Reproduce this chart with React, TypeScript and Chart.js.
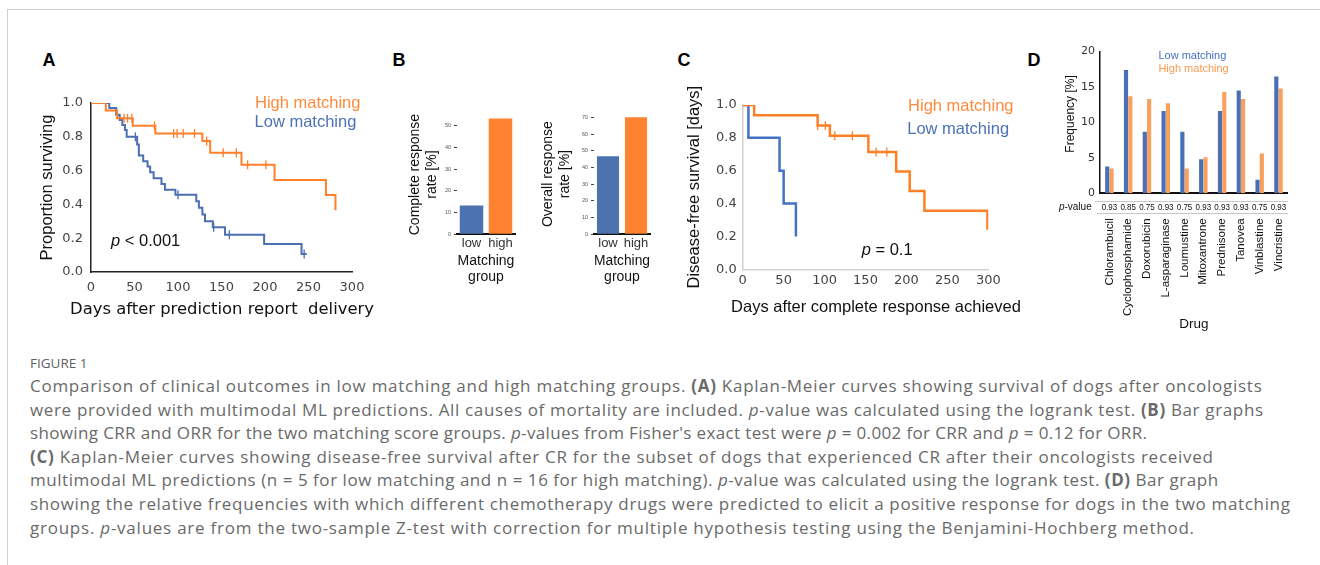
import React, { useEffect, useRef } from 'react';
import { Chart, registerables } from 'chart.js';

Chart.register(...registerables);

const ARIAL = '"Liberation Sans", Arial, sans-serif';
const DEJAVU = '"DejaVu Sans", Verdana, sans-serif';

// ---------------- Panel A: Kaplan-Meier, survival after report delivery
const A_HIGH_T = [0, 17, 30, 48, 74, 128, 137, 173, 211, 270, 281];
const A_HIGH_S = [1, 0.955, 0.91, 0.865, 0.82, 0.775, 0.705, 0.635, 0.545, 0.455, 0.365];
const A_HIGH_CENSOR = [38, 42, 47, 73, 95, 99, 106, 119, 133, 152, 167, 180, 201];
const A_LOW_T = [0, 21, 29, 33, 36, 39, 41, 53, 55, 60, 65, 68, 72, 81, 85, 97, 121, 124, 128, 131, 140, 154, 199, 242, 248];
const A_LOW_S = [1, 0.97, 0.93, 0.9, 0.87, 0.84, 0.8, 0.755, 0.69, 0.655, 0.625, 0.59, 0.555, 0.52, 0.487, 0.457, 0.418, 0.38, 0.34, 0.3, 0.265, 0.22, 0.165, 0.107, 0.107];
const A_LOW_CENSOR = [51, 100, 141, 159, 245];

// ---------------- Panel B: response rates
const B_GROUPS = ['low', 'high'];
const B_CRR = [13.3, 53.3];
const B_ORR = [46.7, 70.0];

// ---------------- Panel C: disease-free survival
const C_HIGH_T = [0, 14, 91.5, 106.5, 153.5, 187.5, 204, 222, 299];
const C_HIGH_S = [1, 0.9375, 0.875, 0.8125, 0.714, 0.595, 0.476, 0.357, 0.24];
const C_HIGH_CENSOR = [91.5, 101, 112.5, 134, 163, 176];
const C_LOW_T = [0, 7, 45, 50, 65];
const C_LOW_S = [1, 0.8, 0.6, 0.4, 0.2];

// ---------------- Panel D: drug frequencies
const D_DRUGS = ['Chlorambucil', 'Cyclophosphamide', 'Doxorubicin', 'L-asparaginase', 'Loumustine', 'Mitoxantrone', 'Prednisone', 'Tanovea', 'Vinblastine', 'Vincristine'];
const D_LOW = [3.8, 17.4, 8.7, 11.6, 8.7, 4.8, 11.6, 14.5, 1.9, 16.5];
const D_HIGH = [3.5, 13.7, 13.3, 12.7, 3.5, 5.1, 14.3, 13.3, 5.6, 14.8];
const D_PVALUES = ['0.93', '0.85', '0.75', '0.93', '0.75', '0.93', '0.93', '0.93', '0.75', '0.93'];

const ORANGE = '#FF7F2A';
const BLUE = '#4A6FB2';
const ORANGE_TXT = '#FF8A3D';
const BLUE_TXT = '#4C72B6';
const D_BLUE = '#4A6FB5';
const D_ORANGE = '#F9A15C';

type Part = { text: string; font: string; color: string };
type Note = { x: number; y: number; parts: Part[]; align?: 'left' | 'center'; rotate?: number };

function notesPlugin(notes: Note[]) {
  return {
    id: 'notes',
    afterDraw(chart: any) {
      const { ctx, scales } = chart;
      for (const n of notes) {
        const px = scales.x.getPixelForValue(n.x);
        const py = scales.y.getPixelForValue(n.y);
        ctx.save();
        ctx.textBaseline = 'middle';
        ctx.textAlign = 'left';
        let total = 0;
        for (const p of n.parts) {
          ctx.font = p.font;
          total += ctx.measureText(p.text).width;
        }
        ctx.translate(px, py);
        if (n.rotate) ctx.rotate(n.rotate);
        let cx = n.align === 'center' ? -total / 2 : 0;
        for (const p of n.parts) {
          ctx.font = p.font;
          ctx.fillStyle = p.color;
          ctx.fillText(p.text, cx, 0);
          cx += ctx.measureText(p.text).width;
        }
        ctx.restore();
      }
    },
  };
}

const survAt = (t: number[], s: number[], time: number) => {
  let v = s[0];
  for (let i = 0; i < t.length; i++) if (t[i] <= time) v = s[i];
  return v;
};

const kmLine = (t: number[], s: number[], color: string, width: number) => ({
  data: t.map((x, i) => ({ x, y: s[i] })),
  stepped: 'before',
  borderColor: color,
  borderWidth: width,
  pointRadius: 0,
  pointHoverRadius: 0,
  fill: false,
});

const kmCensor = (t: number[], s: number[], c: number[], color: string) => ({
  data: c.map((x) => ({ x, y: survAt(t, s, x) })),
  showLine: false,
  pointStyle: 'line',
  pointRotation: 90,
  pointRadius: 4.5,
  pointHoverRadius: 0,
  pointBorderColor: color,
  pointBackgroundColor: color,
  pointBorderWidth: 1.3,
});

const baseOpts = {
  responsive: false,
  animation: false,
  events: [],
  devicePixelRatio: 1,
};

const noGrid = { display: false, drawTicks: false, tickLength: 0 };

function configA() {
  const font = `16.5px ${ARIAL}`;
  return {
    type: 'line',
    data: {
      datasets: [
        kmLine(A_HIGH_T, A_HIGH_S, ORANGE, 2),
        kmCensor(A_HIGH_T, A_HIGH_S, A_HIGH_CENSOR, ORANGE),
        kmLine(A_LOW_T, A_LOW_S, BLUE, 2),
        kmCensor(A_LOW_T, A_LOW_S, A_LOW_CENSOR, BLUE),
      ],
    },
    options: {
      ...baseOpts,
      layout: { padding: { left: 0, top: 63, right: 28, bottom: 0 } },
      plugins: { legend: { display: false }, tooltip: { enabled: false } },
      scales: {
        x: {
          type: 'linear', min: 0, max: 300,
          ticks: { stepSize: 50, padding: 8, maxRotation: 0, font: { family: DEJAVU, size: 13 }, color: '#444' },
          grid: noGrid,
          border: { display: true, color: '#222', width: 1.5 },
          afterFit: (s: any) => { s.height = 58; },
        },
        y: {
          type: 'linear', min: 0, max: 1,
          ticks: { stepSize: 0.2, padding: 8, font: { family: DEJAVU, size: 13 }, color: '#444', callback: (v: any) => Number(v).toFixed(1) },
          grid: noGrid,
          border: { display: true, color: '#222', width: 1.5 },
          title: { display: true, text: 'Proportion surviving', color: '#111', font: { family: ARIAL, size: 16.5 }, padding: { top: 8, bottom: 0 } },
          afterFit: (s: any) => { s.width = 61; },
        },
      },
    },
    plugins: [
      notesPlugin([
        { x: 188.5, y: 1.0, parts: [{ text: 'High matching', font, color: ORANGE_TXT }] },
        { x: 188, y: 0.882, parts: [{ text: 'Low matching', font, color: BLUE_TXT }] },
        { x: 23, y: 0.18, parts: [{ text: 'p', font: `italic ${font}`, color: '#111' }, { text: ' < 0.001', font, color: '#111' }] },
        { x: 150.6, y: -0.223, align: 'center', parts: [{ text: 'Days after prediction report  delivery', font: `16.4px ${DEJAVU}`, color: '#111' }] },
      ]),
    ],
  };
}

function configB(values: number[], max: number, yTitle: string[], o: { top: number; yWidth: number; titlePad: number; barPct: number }) {
  return {
    type: 'bar',
    data: {
      labels: B_GROUPS,
      datasets: [{ data: values, backgroundColor: ['#4C72B0', '#FF8230'], categoryPercentage: 1, barPercentage: o.barPct, borderWidth: 0 }],
    },
    options: {
      ...baseOpts,
      layout: { padding: { left: 0, top: o.top, right: 5, bottom: 0 } },
      plugins: { legend: { display: false }, tooltip: { enabled: false } },
      scales: {
        x: {
          ticks: { padding: 1, autoSkip: false, minRotation: 0, maxRotation: 0, font: { family: ARIAL, size: 13 }, color: '#333' },
          grid: noGrid,
          border: { display: true, color: '#111', width: 2 },
          title: { display: true, text: ['Matching', 'group'], color: '#111', font: { family: ARIAL, size: 14, lineHeight: 1.2 }, padding: { top: 0, bottom: 9 } },
          afterFit: (s: any) => { s.height = 60.7; },
        },
        y: {
          min: 0, max,
          ticks: { stepSize: 10, includeBounds: false, padding: 3, font: { family: ARIAL, size: 5.5 }, color: '#555' },
          grid: { display: true, drawOnChartArea: false, drawTicks: true, tickLength: 3, color: '#444', tickWidth: 1 },
          border: { display: false },
          title: { display: true, text: yTitle, color: '#111', font: { family: ARIAL, size: 14, lineHeight: 1.2 }, padding: { top: o.titlePad, bottom: 0 } },
          afterFit: (s: any) => { s.width = o.yWidth; },
        },
      },
    },
  };
}

function configC() {
  const font = `16.5px ${ARIAL}`;
  return {
    type: 'line',
    data: {
      datasets: [
        kmLine(C_HIGH_T, C_HIGH_S, '#FF7F27', 2.5),
        kmCensor(C_HIGH_T, C_HIGH_S, C_HIGH_CENSOR, '#FF7F27'),
        kmLine(C_LOW_T, C_LOW_S, '#4472C4', 2.5),
      ],
    },
    options: {
      ...baseOpts,
      layout: { padding: { left: 0, top: 65, right: 41.7, bottom: 0 } },
      plugins: { legend: { display: false }, tooltip: { enabled: false } },
      scales: {
        x: {
          type: 'linear', min: 0, max: 300,
          ticks: { stepSize: 50, padding: 4, maxRotation: 0, font: { family: DEJAVU, size: 13 }, color: '#444' },
          grid: noGrid,
          border: { display: true, color: '#d0d0d0', width: 1.5 },
          afterFit: (s: any) => { s.height = 60.7; },
        },
        y: {
          type: 'linear', min: 0, max: 1,
          ticks: { stepSize: 0.2, padding: 6, font: { family: DEJAVU, size: 13 }, color: '#444', callback: (v: any) => Number(v).toFixed(1) },
          grid: noGrid,
          border: { display: true, color: '#d0d0d0', width: 1.5 },
          title: { display: true, text: 'Disease-free survival [days]', color: '#111', font: { family: ARIAL, size: 16.5 }, padding: { top: 5, bottom: 0 } },
          afterFit: (s: any) => { s.width = 62.7; },
        },
      },
    },
    plugins: [
      notesPlugin([
        { x: 202, y: 0.99, parts: [{ text: 'High matching', font, color: ORANGE_TXT }] },
        { x: 201, y: 0.852, parts: [{ text: 'Low matching', font, color: BLUE_TXT }] },
        { x: 145.3, y: 0.117, parts: [{ text: 'p', font: `italic ${font}`, color: '#111' }, { text: ' = 0.1', font, color: '#111' }] },
        { x: 162.8, y: -0.234, align: 'center', parts: [{ text: 'Days after complete response achieved', font, color: '#111' }] },
      ]),
    ],
  };
}

const dTablePlugin = {
  id: 'dtable',
  afterDraw(chart: any) {
    const { ctx, chartArea, scales } = chart;
    const yTop = Math.round(chartArea.bottom + 7.7) + 0.5;
    const yBot = Math.round(chartArea.bottom + 20) + 0.5;
    const yMid = chartArea.bottom + 13.6;
    ctx.save();
    ctx.strokeStyle = '#c8c8c8';
    ctx.lineWidth = 1;
    ctx.beginPath();
    ctx.moveTo(chartArea.left - 5, yTop);
    ctx.lineTo(chartArea.right, yTop);
    ctx.moveTo(chartArea.left - 3, yBot);
    ctx.lineTo(chartArea.right, yBot);
    ctx.stroke();
    ctx.fillStyle = '#111';
    ctx.textBaseline = 'middle';
    ctx.textAlign = 'center';
    ctx.font = `9.5px ${ARIAL}`;
    D_PVALUES.forEach((v, i) => {
      ctx.save();
      ctx.translate(scales.x.getPixelForValue(i), yMid);
      ctx.scale(0.84, 1);
      ctx.fillText(v, 0, 0);
      ctx.restore();
    });
    ctx.textAlign = 'left';
    const f1 = `italic 10px ${ARIAL}`;
    const f2 = `10px ${ARIAL}`;
    ctx.font = f2;
    const w2 = ctx.measureText('-value').width;
    ctx.font = f1;
    const w1 = ctx.measureText('p').width;
    const x0 = chartArea.left - 8.3 - w1 - w2;
    ctx.fillText('p', x0, yMid);
    ctx.font = f2;
    ctx.fillText('-value', x0 + w1, yMid);
    ctx.restore();
  },
};

function configD() {
  const font = `11px ${ARIAL}`;
  return {
    type: 'bar',
    data: {
      labels: D_DRUGS,
      datasets: [
        { label: 'Low matching', data: D_LOW, backgroundColor: D_BLUE, categoryPercentage: 0.46, barPercentage: 0.96, borderWidth: 0 },
        { label: 'High matching', data: D_HIGH, backgroundColor: D_ORANGE, categoryPercentage: 0.46, barPercentage: 0.96, borderWidth: 0 },
      ],
    },
    options: {
      ...baseOpts,
      layout: { padding: { left: 0, top: 10, right: 14.7, bottom: 0 } },
      plugins: { legend: { display: false }, tooltip: { enabled: false } },
      scales: {
        x: {
          ticks: { autoSkip: false, minRotation: 90, maxRotation: 90, padding: 25, font: { family: ARIAL, size: 11.5 }, color: '#111' },
          grid: noGrid,
          border: { display: true, color: '#111', width: 2 },
          title: { display: true, text: 'Drug', color: '#111', font: { family: ARIAL, size: 13.5 }, padding: { top: 0, bottom: 8 } },
          afterFit: (s: any) => { s.height = 146.7; },
        },
        y: {
          min: 0, max: 20,
          ticks: { stepSize: 5, padding: 5, font: { family: DEJAVU, size: 11 }, color: '#333' },
          grid: noGrid,
          border: { display: true, color: '#111', width: 1.5 },
          afterFit: (s: any) => { s.width = 60; },
        },
      },
    },
    plugins: [
      notesPlugin([
        { x: 2.61, y: 19.44, parts: [{ text: 'Low matching', font, color: '#4472C4' }] },
        { x: 2.61, y: 17.59, parts: [{ text: 'High matching', font, color: '#F79A4E' }] },
        { x: -2.06, y: 11.2, align: 'center', rotate: -Math.PI / 2, parts: [{ text: 'Frequency [%]', font: `12px ${ARIAL}`, color: '#111' }] },
      ]),
      dTablePlugin,
    ],
  };
}

function ChartBox(props: { left: number; top: number; width: number; height: number; build: () => any }) {
  const ref = useRef<HTMLCanvasElement | null>(null);
  useEffect(() => {
    const chart = new Chart(ref.current as HTMLCanvasElement, props.build());
    return () => chart.destroy();
  }, []);
  return (
    <canvas
      ref={ref}
      width={props.width}
      height={props.height}
      style={{ position: 'absolute', left: props.left, top: props.top, width: props.width, height: props.height }}
    />
  );
}

const letterStyle = (left: number): React.CSSProperties => ({
  position: 'absolute', left, top: 51, font: `bold 18px ${ARIAL}`, lineHeight: '18px', color: '#000',
});

export default function App() {
  const b: React.CSSProperties = { fontWeight: 700 };
  const i: React.CSSProperties = { fontStyle: 'italic' };
  const ls = (v: number): React.CSSProperties => ({ letterSpacing: `${v}px` });
  return (
    <div style={{ position: 'fixed', left: 0, top: 0, width: 1320, height: 565, overflow: 'hidden', background: '#fff' }}>
      <div style={{ position: 'absolute', left: 7, top: 9, width: 1400, height: 700, border: '1px solid #d0d0d0' }} />
      <div style={letterStyle(42.5)}>A</div>
      <div style={letterStyle(392.5)}>B</div>
      <div style={letterStyle(677.5)}>C</div>
      <div style={letterStyle(1027.5)}>D</div>
      <ChartBox left={30} top={40} width={350} height={290} build={configA} />
      <ChartBox left={395} top={90} width={125} height={205} build={() => configB(B_CRR, 55, ['Complete response', 'rate [%]'], { top: 24.8, yWidth: 62, titlePad: 11.6, barPct: 0.81 })} />
      <ChartBox left={530} top={90} width={125} height={205} build={() => configB(B_ORR, 72, ['Overall response', 'rate [%]'], { top: 24, yWidth: 64, titlePad: 9.6, barPct: 0.79 })} />
      <ChartBox left={680} top={40} width={350} height={290} build={configC} />
      <ChartBox left={1040} top={40} width={278} height={300} build={configD} />
      <div style={{ position: 'absolute', left: 30, top: 354, font: '13.5px "Open Sans", sans-serif', color: '#5f5f5f', whiteSpace: 'nowrap' }}>FIGURE 1</div>
      <div style={{ position: 'absolute', left: 30, top: 374, font: '17px "Open Sans", sans-serif', lineHeight: '23.6px', color: '#6a6a6a', whiteSpace: 'nowrap' }}>
        <div style={ls(0.73)}>Comparison of clinical outcomes in low matching and high matching groups. <span style={b}>(A)</span> Kaplan-Meier curves showing survival of dogs after oncologists</div>
        <div style={ls(0.65)}>were provided with multimodal ML predictions. All causes of mortality are included. <span style={i}>p</span>-value was calculated using the logrank test. <span style={b}>(B)</span> Bar graphs</div>
        <div style={ls(0.36)}>showing CRR and ORR for the two matching score groups. <span style={i}>p</span>-values from Fisher's exact test were <span style={i}>p</span> = 0.002 for CRR and <span style={i}>p</span> = 0.12 for ORR.</div>
        <div style={ls(0.73)}><span style={b}>(C)</span> Kaplan-Meier curves showing disease-free survival after CR for the subset of dogs that experienced CR after their oncologists received</div>
        <div style={ls(0.54)}>multimodal ML predictions (n = 5 for low matching and n = 16 for high matching). <span style={i}>p</span>-value was calculated using the logrank test. <span style={b}>(D)</span> Bar graph</div>
        <div style={ls(0.67)}>showing the relative frequencies with which different chemotherapy drugs were predicted to elicit a positive response for dogs in the two matching</div>
        <div style={ls(0.76)}>groups. <span style={i}>p</span>-values are from the two-sample Z-test with correction for multiple hypothesis testing using the Benjamini-Hochberg method.</div>
      </div>
    </div>
  );
}
